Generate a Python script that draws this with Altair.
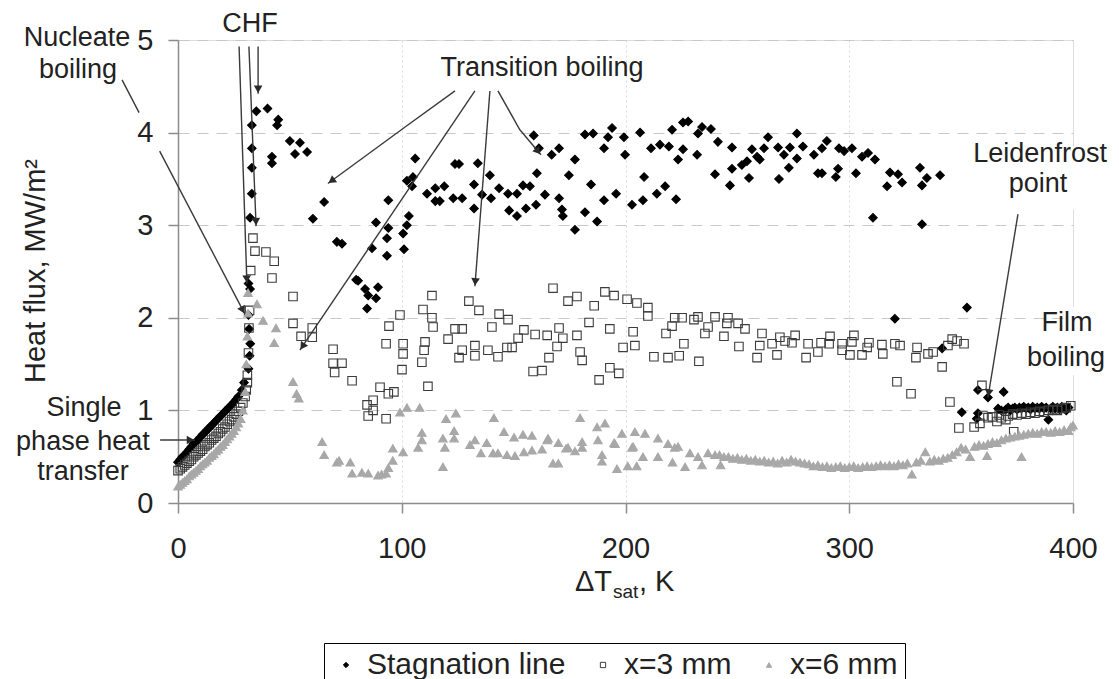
import math
import altair as alt
import pandas as pd

FONT = "Liberation Sans, Arial, sans-serif"
TXT = "#222222"

# ---------------- data (ΔT_sat in K, heat flux in MW/m2) ----------------
stagnation = [
    (0, 0.44), (1, 0.47), (2, 0.50), (3, 0.52), (4, 0.55), (5, 0.58), (6, 0.61), (7, 0.64), (8, 0.66),
    (9, 0.68), (10, 0.71), (11, 0.74), (12, 0.76), (13, 0.79), (14, 0.81), (15, 0.84), (16, 0.86),
    (17, 0.89), (18, 0.91), (19, 0.94), (20, 0.96), (21, 0.99), (22, 1.01), (23, 1.04), (24, 1.06),
    (25, 1.09), (26, 1.12), (27, 1.15),
    (28.5, 1.22), (29.5, 1.30), (31.5, 1.45), (32, 1.59), (32.3, 1.72), (31.8, 1.88), (31.5, 2.03),
    (32.2, 2.31), (31.5, 2.37), (32.2, 3.08), (33, 3.34), (33, 3.62), (33, 3.83), (33, 4.08), (35, 4.23),
    (40, 4.26), (44.8, 4.14), (44.3, 4.08), (50, 3.91), (54.5, 3.89), (52.3, 3.77), (57.7, 3.79),
    (42, 3.74), (42, 3.67), (65.3, 3.25), (60.3, 3.07), (71, 2.82), (73.3, 2.80), (79.6, 2.41),
    (106, 3.72), (102.3, 3.48), (105, 3.52), (104.6, 3.42), (94, 3.27), (88.5, 3.03), (94, 2.97),
    (103.2, 3.10), (102.3, 3.0), (100.6, 2.91), (93.4, 2.86), (86.7, 2.75), (101, 2.74), (93.4, 2.67),
    (80.5, 2.40), (83.6, 2.31), (89.4, 2.33), (85, 2.24), (88.5, 2.21), (84.5, 2.10),
    (123.8, 3.66), (125.6, 3.66), (134, 3.67), (111.3, 3.34), (115, 3.40), (119, 3.42), (115, 3.26),
    (117, 3.26), (123, 3.29), (127, 3.29), (132.3, 3.44), (132.3, 3.18), (135.9, 3.33), (139.4, 3.54),
    (139.9, 3.29), (143.5, 3.40), (147.5, 3.34), (151.5, 3.34), (154.2, 3.43), (157.3, 3.42), (148, 3.16),
    (151.5, 3.10), (155.5, 3.18), (160, 3.22), (159, 3.97), (160.4, 3.56),
    (161.3, 3.83), (167, 3.76), (170.3, 3.83), (177.4, 3.71), (174.7, 3.54), (164, 3.33), (170.3, 3.29),
    (171.6, 3.17), (172, 3.10), (177.4, 2.95), (181.9, 3.14), (187.3, 3.04), (184.6, 3.44), (190.4, 3.27),
    (195.8, 3.34), (202.9, 3.22), (207.8, 3.27), (214, 3.34), (217.7, 3.42), (222.6, 3.28), (208.3, 3.52),
    (181.9, 3.98), (185.5, 3.99), (194, 4.05), (192.2, 3.95), (190.4, 3.83), (199.3, 3.95), (199.8, 3.76),
    (206.5, 4.0), (211.4, 3.83), (215.4, 3.87), (219.4, 3.85), (220.8, 4.03), (225.7, 4.11), (228, 4.12),
    (225.7, 3.82), (223.5, 3.71), (232, 3.76), (232.4, 3.99), (234.2, 4.06), (238.2, 4.04), (241.3, 3.90),
    (240, 3.55),
    (247.6, 3.84), (246.7, 3.43), (247.6, 3.61), (252, 3.65), (254.3, 3.69), (255.2, 3.51), (256.5, 3.82),
    (258.8, 3.74), (260, 3.71), (261.9, 3.83), (263.7, 3.95), (268.2, 3.84), (268.6, 3.50), (270.8, 3.76),
    (273, 3.62), (273.5, 3.84), (276.6, 3.99), (276.6, 3.72), (279.3, 3.85), (284.2, 3.76), (286, 3.56),
    (287.8, 3.56), (287.8, 3.83), (290, 3.91), (294, 3.52), (295, 3.61), (295.4, 3.83), (297.7, 3.80),
    (301.2, 3.83), (303, 3.56), (305.7, 3.74), (308.4, 3.78), (311.5, 3.71), (310.6, 3.08), (316.9, 3.42),
    (318.2, 3.57), (320.4, 1.99), (321.8, 3.55),
    (323.6, 3.46), (331.6, 3.62), (334.7, 3.51), (332.5, 3.43), (340.6, 3.54), (332.5, 3.01), (352.6, 2.11),
    (341.5, 1.67), (350.3, 0.98), (357.5, 1.22), (357.5, 0.97), (357, 0.91), (362, 1.14), (369, 1.20),
    (366.5, 1.02),
    (368, 1.00), (370, 1.01), (371, 1.03), (372, 1.00), (373, 1.02), (374, 1.03), (375, 1.01), (376, 1.03),
    (377, 1.02), (378, 1.04), (379, 1.02), (380, 1.03), (381, 1.01), (382, 1.04), (383, 1.02), (384, 1.03),
    (385, 1.02), (386, 1.04), (387, 1.02), (388, 1.03), (389, 0.90), (390, 1.02), (391, 1.04), (392, 1.02),
    (393, 1.03), (394, 1.01), (395, 1.04), (396, 1.02), (397, 1.00), (398, 1.03),
]

x3mm = [
    (0, 0.35), (1, 0.37), (2, 0.39), (3, 0.41), (4, 0.43), (5, 0.45), (6, 0.47), (7, 0.50), (8, 0.52),
    (9, 0.54), (10, 0.56), (11, 0.58), (12, 0.61), (13, 0.63), (14, 0.65), (15, 0.68), (16, 0.70),
    (17, 0.72), (18, 0.75), (19, 0.77), (20, 0.80), (21, 0.82), (22, 0.85), (23, 0.88), (24, 0.90),
    (25, 0.93), (26, 0.96), (27, 0.99), (28, 1.03), (29, 1.08), (30, 1.15), (30.5, 1.22), (31, 1.30),
    (31, 1.38), (31.5, 1.62), (31.7, 1.89), (32, 2.08), (32.5, 2.51), (34.4, 2.72), (33.5, 2.86),
    (39.3, 2.71), (43, 2.61), (42, 2.43), (51.4, 2.23), (51.4, 1.94), (55, 1.80), (60, 1.89), (60, 1.79),
    (69.3, 1.66), (69.3, 1.51), (73.3, 1.51), (70, 1.41), (77.8, 1.32),
    (113.5, 2.24), (99.2, 2.03), (94.3, 1.91), (93, 1.72), (100.6, 1.72), (100.6, 1.61), (100.1, 1.44),
    (109.5, 2.09), (113.5, 2.0), (114, 1.90), (110.4, 1.74), (110, 1.65), (109, 1.52), (111.7, 1.26),
    (90.3, 1.25), (94, 1.18), (96.5, 1.20), (87.2, 1.11), (84.5, 1.06), (87.2, 1.0), (85, 0.94), (93, 0.91),
    (130, 2.18), (134.5, 2.08), (123.8, 1.88), (127, 1.88), (120.7, 1.77), (127, 1.65), (125.6, 1.57),
    (132.7, 1.70), (132.7, 1.59), (138.5, 1.65), (143, 1.58), (140.3, 1.90), (143.5, 2.04), (147.5, 1.98),
    (147, 1.68), (149.3, 1.68), (152, 1.78), (154.6, 1.87), (159.6, 1.82), (158.7, 1.42),
    (167.6, 2.32), (174.3, 2.18), (178.3, 2.23), (186, 2.13), (190.8, 2.28), (194.9, 2.24), (200.7, 2.20),
    (205.1, 2.16), (210, 2.11), (210, 2.02), (183.7, 1.95), (193, 1.88), (203.4, 1.85), (178.3, 1.81),
    (165, 1.81), (170.3, 1.89), (172, 1.78), (169.4, 1.69), (165.8, 1.57), (162.7, 1.43), (179.7, 1.63),
    (180.6, 1.54), (198.9, 1.68), (204.2, 1.70), (193, 1.46), (197, 1.40), (188.2, 1.33), (212.7, 1.58),
    (219, 1.57), (224, 1.59), (226.1, 1.72), (232.8, 1.53), (218.1, 1.83), (220.8, 1.91), (222, 2.0),
    (225.3, 2.0), (230.6, 1.98), (232.4, 2.01), (236.9, 1.90), (235.5, 1.83), (240, 2.01),
    (245.8, 2.0), (245.3, 1.94), (250.3, 1.94), (253.4, 1.88), (244, 1.80), (250.7, 1.69), (258.8, 1.57),
    (261, 1.83), (260, 1.70), (265.5, 1.72), (267.7, 1.60), (269, 1.79), (271.3, 1.75), (274.4, 1.73),
    (275.8, 1.81), (280.7, 1.57), (281.6, 1.72), (286, 1.63), (287.4, 1.73), (291.4, 1.80), (291, 1.72),
    (296.8, 1.72), (296.8, 1.65), (300.3, 1.60), (301.2, 1.74), (302.1, 1.81), (305.7, 1.60), (308, 1.68),
    (308.8, 1.73), (315, 1.61), (314.6, 1.71), (320.4, 1.72), (321.3, 1.31),
    (322.7, 1.70), (327.6, 1.18), (330.3, 1.68), (329.8, 1.57), (335.2, 1.61), (337.5, 1.63), (341.5, 1.47),
    (344.1, 1.70), (346, 1.77), (348.2, 1.75), (351.3, 1.72), (345, 1.09), (349, 0.81), (355.8, 0.82),
    (358.4, 0.86), (359.3, 1.27), (359.8, 0.94), (366, 0.88), (370, 0.90), (373.5, 0.77),
    (362, 0.92), (364, 0.93), (367, 0.95), (368, 0.92), (371, 0.94), (373, 0.96), (375, 0.95), (377, 0.97),
    (379, 0.96), (381, 0.98), (383, 0.97), (385, 0.99), (387, 0.98), (389, 1.00), (391, 1.01), (393, 1.00),
    (395, 1.02), (397, 1.03), (399, 1.05),
]

x6mm = [
    (0, 0.18), (1, 0.20), (2, 0.22), (3, 0.24), (4, 0.26), (5, 0.29), (6, 0.31), (7, 0.33), (8, 0.35),
    (9, 0.37), (10, 0.40), (11, 0.42), (12, 0.44), (13, 0.46), (14, 0.49), (15, 0.51), (16, 0.53),
    (17, 0.56), (18, 0.58), (19, 0.61), (20, 0.63), (21, 0.66), (22, 0.69), (23, 0.72), (24, 0.75),
    (25, 0.78), (26, 0.82), (27, 0.86), (28, 0.91), (29, 1.00), (30, 1.20), (30.5, 1.50), (31, 1.80),
    (31.3, 2.05), (31.3, 2.27), (35.3, 2.15), (38, 1.97), (43.8, 1.89), (43, 1.73), (51.4, 1.31),
    (53, 1.18), (54, 1.13),
    (64.4, 0.66), (65.3, 0.52), (71, 0.44), (72, 0.46), (77, 0.44), (77.8, 0.32), (82.2, 0.33), (85, 0.32),
    (89.4, 0.30), (91, 0.31), (93, 0.32), (94, 0.38), (96, 0.46), (96, 0.59), (100.6, 0.55), (99.2, 0.98),
    (102.3, 1.03), (108, 1.03), (109, 0.76), (109, 0.68), (107.3, 0.60), (119.8, 0.91), (124.2, 0.97),
    (141.2, 0.92), (118.4, 0.70), (119.3, 0.60), (123.4, 0.78), (123.4, 0.70), (118.4, 0.39), (130.5, 0.63),
    (132.7, 0.68), (135.4, 0.54), (138, 0.65), (140.8, 0.54), (145.7, 0.77), (150.2, 0.71), (154.2, 0.74),
    (158.2, 0.73), (143, 0.54), (147, 0.52), (150.6, 0.51), (154.6, 0.55), (158.2, 0.57),
    (162.7, 0.58), (165, 0.68), (170, 0.65), (167.6, 0.43), (170, 0.43), (173.4, 0.59), (177.4, 0.56),
    (179.7, 0.92), (180.6, 0.66), (187.3, 0.82), (190.8, 0.86), (187.7, 0.68), (189.5, 0.52), (189.5, 0.45),
    (195.3, 0.64), (198.4, 0.75), (196.2, 0.37), (201, 0.40), (204.2, 0.77), (205, 0.40), (208.7, 0.75),
    (203.4, 0.61), (207.8, 0.50), (214.5, 0.70), (214.5, 0.50), (219, 0.64), (222, 0.60), (221, 0.44),
    (226.6, 0.39), (228.8, 0.54), (174.3, 0.60), (165.4, 0.70), (180.6, 0.60), (194.9, 0.65), (202.9, 0.60),
    (223.5, 0.61), (232.4, 0.50), (234.2, 0.41), (236.9, 0.54), (240, 0.52),
    (242, 0.52), (242.5, 0.41), (244, 0.50), (246, 0.50), (248, 0.48), (250, 0.49), (252, 0.47), (254, 0.48),
    (256, 0.46), (258, 0.47), (260, 0.45), (262, 0.46), (264, 0.44), (266, 0.45), (268, 0.43), (270, 0.46),
    (272, 0.44), (274, 0.47), (276, 0.45), (278, 0.44), (280, 0.43), (282, 0.42), (284, 0.40), (286, 0.41),
    (288, 0.39), (290, 0.40), (292, 0.38), (294, 0.39), (296, 0.40), (298, 0.38), (300, 0.39), (302, 0.40),
    (304, 0.38), (306, 0.39), (308, 0.40), (310, 0.39), (312, 0.40), (314, 0.41), (316, 0.40), (318, 0.41),
    (320, 0.40), (322, 0.42), (324, 0.41), (326, 0.43), (328, 0.31), (330, 0.44), (332, 0.46), (334, 0.55),
    (336, 0.45), (338, 0.47), (340, 0.46), (342, 0.48), (344, 0.49), (346, 0.52), (348, 0.55), (350, 0.60),
    (352, 0.58), (354, 0.50), (356, 0.61), (358, 0.63), (360, 0.62), (361.6, 0.51), (362, 0.64), (364, 0.66),
    (366, 0.65), (368, 0.68), (370, 0.70), (372, 0.71), (374, 0.72), (376, 0.73), (377, 0.50), (378, 0.74),
    (380, 0.75), (382, 0.76), (384, 0.75), (386, 0.77), (388, 0.77), (390, 0.76), (392, 0.78), (394, 0.77),
    (396, 0.79), (398, 0.78), (399, 0.82), (400, 0.84),
]

series_names = ["Stagnation line", "x=3 mm", "x=6 mm"]
x_ticks = [0, 100, 200, 300, 400]
y_ticks = [0, 1, 2, 3, 4, 5]

# annotation labels (data coordinates)
labels = [
    ("Nucleate", -45.1, 5.02), ("boiling", -44.7, 4.68), ("CHF", 32.2, 5.17),
    ("Transition boiling", 162.7, 4.70), ("Leidenfrost", 385.3, 3.77), ("point", 384.4, 3.44),
    ("Film", 397.3, 1.94), ("boiling", 396.9, 1.57), ("Single", -42.0, 1.03),
    ("phase heat", -42.5, 0.66), ("transfer", -42.5, 0.33),
]
# leader lines: x1, y1, x2, y2, has arrowhead
leaders = [
    (-25.0, 4.57, -17.4, 4.215, False),
    (-8.2, 3.80, 29.9, 2.04, True),
    (27.3, 4.93, 30.8, 2.37, True),
    (31.7, 4.93, 34.9, 2.99, True),
    (35.8, 4.93, 35.8, 4.42, True),
    (123.8, 4.45, 101.5, 4.06, False),
    (101.5, 4.06, 67.0, 3.45, True),
    (132.7, 4.45, 54.5, 1.65, True),
    (139.4, 4.45, 132.7, 2.34, True),
    (143.0, 4.45, 152.8, 4.03, False),
    (152.8, 4.03, 162.2, 3.76, True),
    (375.4, 3.12, 362.0, 1.14, True),
    (-8.0, 0.68, 7.6, 0.68, True),
]
# stretches of the right frame hidden behind the labels there (ΔT from, to, q from, to)
frame_gaps = [(398.0, 402.5, 3.17, 3.85), (398.0, 402.5, 1.38, 2.12)]

# ---------------- layout / styles ----------------
W, H = 895, 463
PX_PER_X = W / 400.0
PX_PER_Y = H / 5.0

rows = []
for name, pts in zip(series_names, [stagnation, x3mm, x6mm]):
    for dt, q in pts:
        rows.append({"series": name, "dT": dt, "q": q})
df = pd.DataFrame(rows)

lead_df = pd.DataFrame(
    [{"x1": a, "y1": b, "x2": c, "y2": d} for a, b, c, d, _ in leaders]
)
heads = []
for a, b, c, d, h in leaders:
    if not h:
        continue
    dxp = (c - a) * PX_PER_X
    dyp = -(d - b) * PX_PER_Y
    n = math.hypot(dxp, dyp)
    ux, uy = dxp / n, dyp / n
    ang = math.degrees(math.atan2(-ux, uy)) % 360
    back = 4.5
    heads.append({"hx": c - ux * back / PX_PER_X, "hy": d + uy * back / PX_PER_Y, "ang": ang})
head_df = pd.DataFrame(heads)
lab_df = pd.DataFrame([{"t": t, "lx": x, "ly": y} for t, x, y in labels])
gap_df = pd.DataFrame([{"gx": a, "gx2": b, "gy": c, "gy2": d} for a, b, c, d in frame_gaps])

xscale = alt.Scale(domain=[0, 400], nice=False, zero=False)
yscale = alt.Scale(domain=[0, 5], nice=False, zero=False)

legend = alt.Legend(
    orient="none", legendX=146, legendY=603, direction="horizontal",
    strokeColor="#000000", fillColor="#ffffff", padding=7,
    labelFont=FONT, labelFontSize=30, labelColor=TXT, labelOffset=6, labelLimit=600,
    symbolSize=28, symbolStrokeWidth=1, columnPadding=22,
)

points = alt.Chart(df).mark_point(opacity=1, strokeWidth=1.1, size=72).encode(
    x=alt.X("dT:Q", scale=xscale, title=None, axis=alt.Axis(
        values=x_ticks, format="d", title=None, grid=True, gridColor="#dadada", gridDash=[2, 3],
        domainColor="#8c8c8c", domainWidth=1.5, tickColor="#8c8c8c", tickSize=10, tickWidth=1.5,
        labelFont=FONT, labelFontSize=29, labelColor=TXT, labelPadding=21, labelFlush=False)),
    y=alt.Y("q:Q", scale=yscale, title=None, axis=alt.Axis(
        values=y_ticks, format="d", title=None,
        grid=True, gridColor="#c8c8c8", gridDash=[11, 8],
        domainColor="#8c8c8c", domainWidth=1.5, tickColor="#8c8c8c", tickSize=10, tickWidth=1.5,
        labelFont=FONT, labelFontSize=29, labelColor=TXT, labelPadding=15, labelFlush=False)),
    shape=alt.Shape("series:N", title=None, legend=legend,
                    scale=alt.Scale(domain=series_names, range=["diamond", "square", "triangle-up"])),
    fill=alt.Fill("series:N", title=None, legend=legend,
                  scale=alt.Scale(domain=series_names, range=["#000000", "transparent", "#a8a8a8"])),
    stroke=alt.Stroke("series:N", title=None, legend=legend,
                      scale=alt.Scale(domain=series_names, range=["#000000", "#3c3c3c", "#a8a8a8"])),
)

gaps = alt.Chart(gap_df).mark_rect(color="white", opacity=1).encode(
    x=alt.X("gx:Q", scale=xscale, title=None), x2="gx2:Q",
    y=alt.Y("gy:Q", scale=yscale, title=None), y2="gy2:Q",
)

rules = alt.Chart(lead_df).mark_rule(color="#3a3a3a", strokeWidth=1.4).encode(
    x=alt.X("x1:Q", scale=xscale, title=None), y=alt.Y("y1:Q", scale=yscale, title=None),
    x2="x2:Q", y2="y2:Q",
)

arrowheads = alt.Chart(head_df).mark_point(
    shape="triangle-down", filled=True, color="#2a2a2a", opacity=1, size=75
).encode(
    x=alt.X("hx:Q", scale=xscale, title=None), y=alt.Y("hy:Q", scale=yscale, title=None),
    angle=alt.Angle("ang:Q", scale=None),
)

texts = alt.Chart(lab_df).mark_text(
    font=FONT, fontSize=27, color=TXT, align="center", baseline="middle"
).encode(
    x=alt.X("lx:Q", scale=xscale, title=None), y=alt.Y("ly:Q", scale=yscale, title=None), text="t:N",
)

# axis titles drawn as text (x title has a real subscript)
def title_part(txt, px, py, size, align, angle=0, baseline="alphabetic"):
    return alt.Chart(pd.DataFrame({"t": [txt]})).mark_text(
        font=FONT, fontSize=size, color=TXT, align=align, baseline=baseline, angle=angle
    ).encode(text="t:N", x=alt.value(px - 178), y=alt.value(py - 40))

xt1 = title_part("ΔT", 612, 591, 29, "right")
xt2 = title_part("sat", 613, 598, 19, "left")
xt3 = title_part(", K", 639, 591, 29, "left")
yt = title_part("Heat flux, MW/m²", 36, 271, 29, "center", angle=270, baseline="middle")

chart = alt.layer(points, gaps, rules, arrowheads, texts, xt1, xt2, xt3, yt).properties(
    width=W, height=H,
    autosize=alt.AutoSizeParams(type="none"),
    padding={"left": 178, "top": 40, "right": 46, "bottom": 176},
).configure_view(
    stroke="#b8b8b8", strokeWidth=1.5
).configure_legend(strokeWidth=2).configure(background="white")

chart.save("out.html", embed_options={"renderer": "svg", "actions": False})
